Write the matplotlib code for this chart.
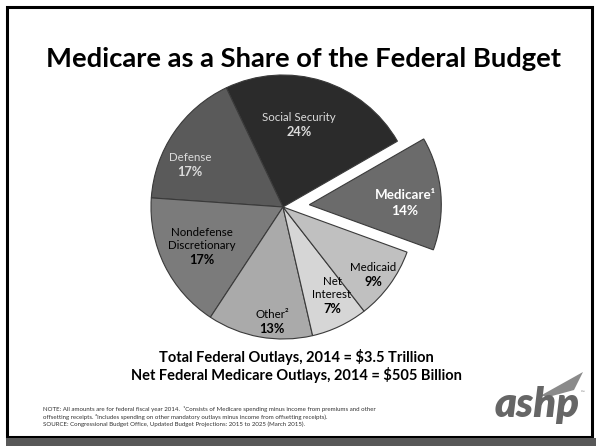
import matplotlib
matplotlib.use("Agg")
import matplotlib.pyplot as plt
from matplotlib.patches import Rectangle, Polygon

plt.rcParams["font.family"] = ["Lato", "DejaVu Sans"]

# Budget shares, counter-clockwise from Medicare
categories = ["Medicare\u00b9", "Social Security", "Defense",
              "Nondefense\nDiscretionary", "Other\u00b2", "Net\nInterest", "Medicaid"]
shares = [14, 24, 17, 17, 13, 7, 9]
colors = ["#6b6b6b", "#2b2b2b", "#5a5a5a", "#7b7b7b", "#aaaaaa", "#d6d6d6", "#c0c0c0"]
explode_frac = [0.2, 0, 0, 0, 0, 0, 0]
label_colors = ["white", "#dcdcdc", "#dcdcdc", "black", "black", "black", "black"]
# label anchor (x, y) in pixel units from the top-left corner
label_xy = [(405, 199), (299, 121), (190, 161), (202, 249), (272, 318), (332, 298), (373, 271)]

title = "Medicare as a Share of the Federal Budget"
summary = ["Total Federal Outlays, 2014 = $3.5 Trillion",
           "Net Federal Medicare Outlays, 2014 = $505 Billion"]
notes = ["NOTE: All amounts are for federal fiscal year 2014.  \u00b9Consists of Medicare spending minus income from premiums and other",
         "offsetting receipts. \u00b2Includes spending on other mandatory outlays minus income from offsetting receipts).",
         "SOURCE: Congressional Budget Office, Updated Budget Projections: 2015 to 2025 (March 2015)."]

W, H = 596, 446
RADIUS = 132
fig = plt.figure(figsize=(W / 100, H / 100), dpi=100)
ax = fig.add_axes([0, 0, 1, 1])

def Y(y):
    return H - y

# slide frame
ax.add_patch(Rectangle((7, Y(437)), 585, 430, fill=False, edgecolor="black", linewidth=2.2))
ax.add_patch(Rectangle((6, 0), W - 6, Y(438), facecolor="#585858", edgecolor="none"))

ax.text(303, Y(67), title, ha="center", va="baseline", fontsize=19.7,
        fontweight="bold", color="black")

# matplotlib applies explode as an absolute offset, so scale by the radius
wedges, _ = ax.pie(shares, explode=[e * RADIUS for e in explode_frac], colors=colors,
                   startangle=-20, counterclock=True, radius=RADIUS,
                   center=(283, Y(207)),
                   wedgeprops=dict(edgecolor="#3a3a3a", linewidth=0.8),
                   frame=True)
ax.set_xlim(0, W)
ax.set_ylim(0, H)
ax.set_aspect("equal")
ax.axis("off")

for i, (name, val, (lx, ly), tc) in enumerate(zip(categories, shares, label_xy, label_colors)):
    highlight = explode_frac[i] > 0
    ax.text(lx, Y(ly), name, ha="center", va="baseline",
            fontsize=9.6 if highlight else 8.3,
            fontweight="bold" if highlight else "normal",
            color=tc, linespacing=1.25, zorder=5)
    ax.text(lx, Y(ly) - (16 if highlight else 15), f"{val}%", ha="center", va="baseline",
            fontsize=9.8 if highlight else 9.2,
            fontweight="bold", color=tc, zorder=5)

ax.text(296, Y(362), summary[0], ha="center", va="baseline", fontsize=10.5,
        fontweight="bold", color="black")
ax.text(296, Y(380), summary[1], ha="center", va="baseline", fontsize=10.5,
        fontweight="bold", color="black")

for i, line in enumerate(notes):
    ax.text(43, Y(411 + 7.6 * i), line, ha="left", va="baseline", fontsize=4.4,
            color="#333333")

# logo
ax.text(537, Y(417), "ashp", ha="center", va="baseline", fontsize=30,
        fontweight="heavy", fontstyle="italic", color="#666666")
ax.add_patch(Polygon([(540, Y(396)), (583, Y(372)), (574, Y(390)), (552, Y(396))],
                     closed=True, facecolor="#8a8a8a", edgecolor="none"))
ax.text(581, Y(394), "\u2122", fontsize=3.5, color="#6f6f6f")

fig.savefig("out.png", dpi=100)
